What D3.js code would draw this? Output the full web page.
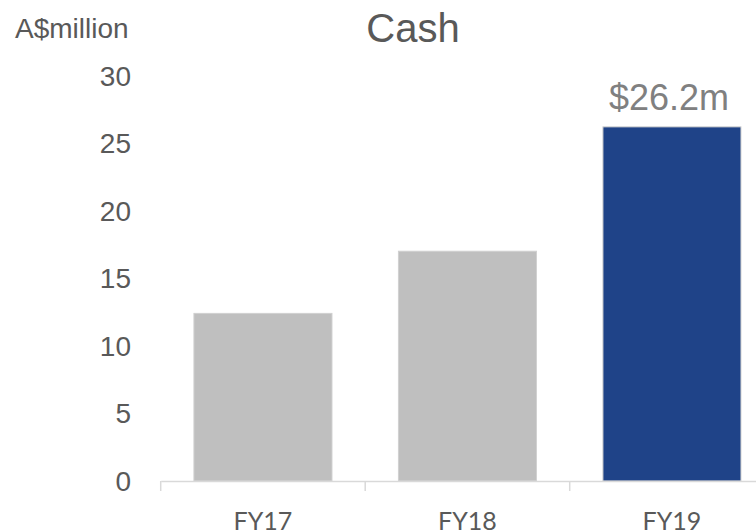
<!DOCTYPE html>
<html>
<head>
<meta charset="utf-8">
<script src="https://cdn.jsdelivr.net/npm/d3@7"></script>
<style>
  body { margin: 0; background: #fff; }
  svg { display: block; }
</style>
</head>
<body>
<svg id="chart" width="756" height="532"></svg>
<script>
var categories = ["FY17", "FY18", "FY19"];
var values = [12.4, 17.0, 26.2];
var yTicks = [0, 5, 10, 15, 20, 25, 30];
var barColors = ["#bfbfbf", "#bfbfbf", "#1f4388"];

var svg = d3.select("#chart");

var x = d3.scaleBand()
    .domain(categories)
    .range([160.7, 774.2])
    .paddingInner(0.325)
    .paddingOuter(0.1625);

var y = d3.scaleLinear()
    .domain([0, 30])
    .range([481, 75.5]);

// y labels, no axis line
svg.selectAll("text.ytick")
    .data(yTicks)
    .enter()
    .append("text")
    .attr("class", "ytick")
    .attr("x", 131)
    .attr("y", function (d) { return y(d); })
    .attr("dy", "0.36em")
    .attr("text-anchor", "end")
    .attr("font-family", "Liberation Sans, Arial, sans-serif")
    .attr("font-size", 28)
    .attr("fill", "#595959")
    .text(function (d) { return d; });

// bars
svg.selectAll("rect.bar")
    .data(values)
    .enter()
    .append("rect")
    .attr("class", "bar")
    .attr("x", function (d, i) { return x(categories[i]); })
    .attr("y", function (d) { return y(d); })
    .attr("width", x.bandwidth())
    .attr("height", function (d) { return y(0) - y(d); })
    .attr("fill", function (d, i) { return barColors[i]; })
    .attr("stroke", "#d0d0d0")
    .attr("stroke-width", 1);

// x axis
var xAxis = d3.axisBottom(x).tickSize(0).tickFormat("");
var gx = svg.append("g").attr("transform", "translate(0,481)").call(xAxis);
gx.select(".domain").attr("stroke", "#d9d9d9").attr("stroke-width", 1.5);

var bounds = [x.range()[0]].concat(categories.map(function (c) { return x(c) - x.step() * x.paddingInner() / 2 + x.step(); }));
svg.selectAll("line.xtick")
    .data(bounds)
    .enter()
    .append("line")
    .attr("class", "xtick")
    .attr("x1", function (d) { return d; })
    .attr("x2", function (d) { return d; })
    .attr("y1", 481)
    .attr("y2", 491)
    .attr("stroke", "#d9d9d9")
    .attr("stroke-width", 1.5);

svg.selectAll("text.xlab")
    .data(categories)
    .enter()
    .append("text")
    .attr("class", "xlab")
    .attr("x", function (d) { return x(d) + x.bandwidth() / 2; })
    .attr("y", 530)
    .attr("text-anchor", "middle")
    .attr("font-family", "Lato, Carlito, sans-serif")
    .attr("font-size", 25)
    .attr("fill", "#595959")
    .text(function (d) { return d; });

// value label on last bar
svg.append("text")
    .attr("x", x("FY19") + x.bandwidth() / 2)
    .attr("dx", -3)
    .attr("y", 110)
    .attr("text-anchor", "middle")
    .attr("font-family", "Liberation Sans, Arial, sans-serif")
    .attr("font-size", 36)
    .attr("fill", "#808080")
    .text("$" + values[2] + "m");

// title and unit
svg.append("text")
    .attr("x", 413)
    .attr("y", 42)
    .attr("text-anchor", "middle")
    .attr("font-family", "Liberation Sans, Arial, sans-serif")
    .attr("font-size", 40)
    .attr("fill", "#595959")
    .text("Cash");

svg.append("text")
    .attr("x", 15)
    .attr("y", 38)
    .attr("font-family", "Liberation Sans, Arial, sans-serif")
    .attr("font-size", 28)
    .attr("fill", "#595959")
    .text("A$million");
</script>
</body>
</html>
